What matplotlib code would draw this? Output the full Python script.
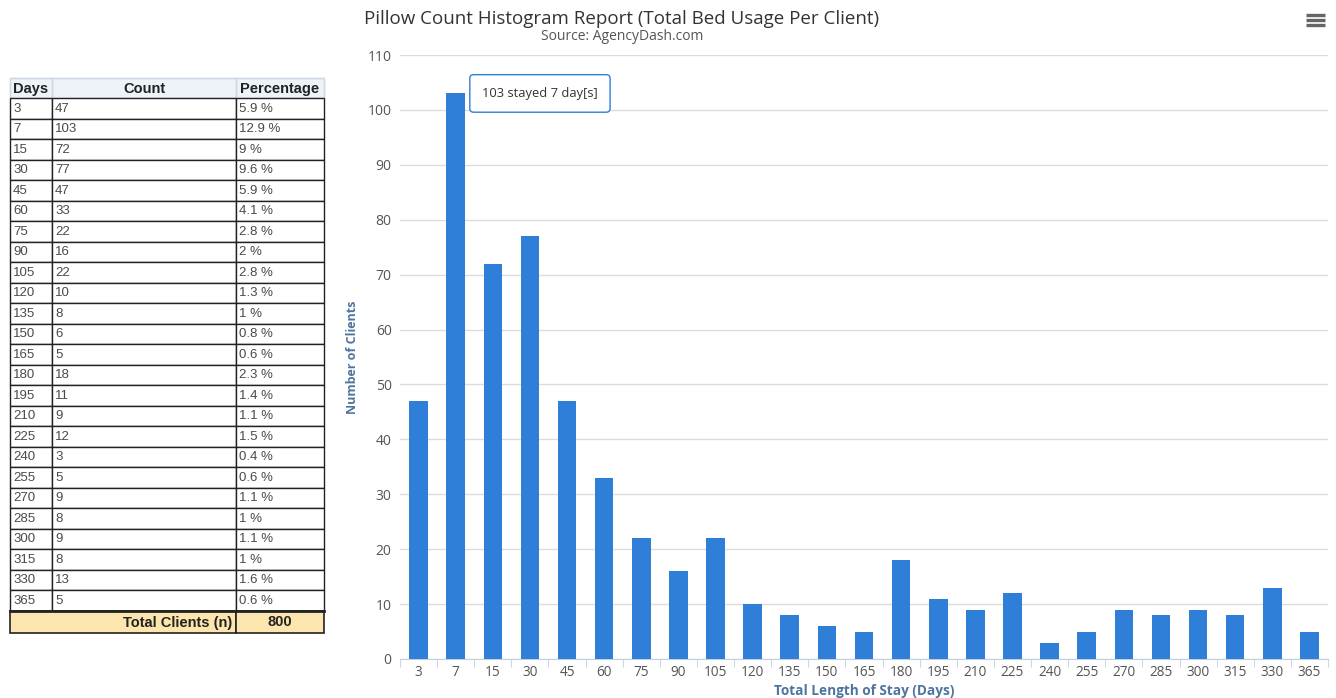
import matplotlib.pyplot as plt
from matplotlib.patches import Rectangle

# length-of-stay buckets and client counts
days = ["3", "7", "15", "30", "45", "60", "75", "90", "105", "120", "135", "150", "165",
        "180", "195", "210", "225", "240", "255", "270", "285", "300", "315", "330", "365"]
counts = [47, 103, 72, 77, 47, 33, 22, 16, 22, 10, 8, 6, 5,
          18, 11, 9, 12, 3, 5, 9, 8, 9, 8, 13, 5]
percentages = ["5.9 %", "12.9 %", "9 %", "9.6 %", "5.9 %", "4.1 %", "2.8 %", "2 %", "2.8 %",
               "1.3 %", "1 %", "0.8 %", "0.6 %", "2.3 %", "1.4 %", "1.1 %", "1.5 %", "0.4 %",
               "0.6 %", "1.1 %", "1 %", "1.1 %", "1 %", "1.6 %", "0.6 %"]
total_clients = 800
y_ticks = list(range(0, 111, 10))

W, H = 1336, 698
BAR = "#2f7ed8"
AXIS_BLUE = "#4d759e"

fig = plt.figure(figsize=(W / 100, H / 100), dpi=100)
fig.patch.set_facecolor("white")

# overlay axes in pixel coordinates for the table and decorations
ov = fig.add_axes([0, 0, 1, 1], zorder=0)
ov.set_xlim(0, W)
ov.set_ylim(H, 0)
ov.axis("off")

# ---- table ----
cols = [10, 52, 236, 324]
head_top, head_bot = 78, 98
row_h = 20.5
tfont = dict(family="Liberation Sans", fontsize=9.5, color="#4a4a4a")
hfont = dict(family="Liberation Sans", fontsize=10.5, fontweight="bold", color="#222222")

ov.add_patch(Rectangle((cols[0], head_top), cols[3] - cols[0], head_bot - head_top,
                       facecolor="#eef3fa", edgecolor="#cfd8e3", lw=1))
for x0, x1, name in zip(cols[:-1], cols[1:], ["Days", "Count", "Percentage"]):
    ov.add_patch(Rectangle((x0, head_top), x1 - x0, head_bot - head_top,
                           facecolor="none", edgecolor="#cfd8e3", lw=1))
    ha = "left" if name == "Days" else "center"
    xt = x0 + 3 if name == "Days" else (x0 + x1) / 2
    ov.text(xt, (head_top + head_bot) / 2 + 1, name, ha=ha, va="center", **hfont)

for i, (d, c, p) in enumerate(zip(days, counts, percentages)):
    y0 = head_bot + i * row_h
    for x0, x1 in zip(cols[:-1], cols[1:]):
        ov.add_patch(Rectangle((x0, y0), x1 - x0, row_h, facecolor="white",
                               edgecolor="#222222", lw=1))
    yc = y0 + row_h / 2 + 0.5
    ov.text(cols[0] + 3, yc, d, ha="left", va="center", **tfont)
    ov.text(cols[1] + 3, yc, str(c), ha="left", va="center", **tfont)
    ov.text(cols[2] + 3, yc, p, ha="left", va="center", **tfont)

tot_top = head_bot + len(days) * row_h
tot_bot = tot_top + 22
ov.add_patch(Rectangle((cols[0], tot_top), cols[2] - cols[0], tot_bot - tot_top,
                       facecolor="#fde6ad", edgecolor="#222222", lw=1.2))
ov.add_patch(Rectangle((cols[2], tot_top), cols[3] - cols[2], tot_bot - tot_top,
                       facecolor="#fde6ad", edgecolor="#222222", lw=1.2))
ov.plot([cols[0], cols[3]], [tot_top, tot_top], color="#222222", lw=2)
ov.text(cols[2] - 4, (tot_top + tot_bot) / 2 + 1, "Total Clients (n)", ha="right",
        va="center", **hfont)
ov.text((cols[2] + cols[3]) / 2, (tot_top + tot_bot) / 2 + 1, str(total_clients),
        ha="center", va="center", **hfont)

# ---- titles and menu icon ----
ov.text(622, 19, "Pillow Count Histogram Report (Total Bed Usage Per Client)", ha="center",
        va="center", family="Open Sans", fontsize=13.5, color="#333333")
ov.text(622, 36, "Source: AgencyDash.com", ha="center", va="center",
        family="Open Sans", fontsize=10, color="#555555")
for yy in (14.5, 19.5, 24.5):
    ov.plot([1306, 1325], [yy, yy], color="#666666", lw=2.4, solid_capstyle="butt")

# ---- bar chart ----
left, right, top, bottom = 400, 1328, 55, 659
ax = fig.add_axes([left / W, 1 - bottom / H, (right - left) / W, (bottom - top) / H], zorder=1)
ax.patch.set_alpha(0)
x = list(range(len(days)))
ax.bar(x, counts, width=0.5, color=BAR, zorder=3)
ax.set_xlim(-0.5, len(days) - 0.5)
ax.set_ylim(0, 110)
ax.set_yticks(y_ticks)
ax.set_xticks(x)
ax.set_xticklabels(days)
ax.set_xticks([i - 0.5 for i in range(len(days) + 1)], minor=True)
ax.grid(axis="y", color="#dcdcdc", lw=1, zorder=0)
for s in ("top", "right", "left"):
    ax.spines[s].set_visible(False)
ax.spines["bottom"].set_color("#c0d0e0")
ax.tick_params(axis="x", which="major", length=0, pad=4, labelsize=9.8, labelcolor="#555555")
ax.tick_params(axis="x", which="minor", length=6, color="#c0d0e0", direction="out")
ax.tick_params(axis="y", length=0, pad=6, labelsize=10, labelcolor="#555555")
for lab in ax.get_xticklabels() + ax.get_yticklabels():
    lab.set_family("Open Sans")
ax.set_ylabel("Number of Clients", family="Open Sans", fontsize=9, fontweight="bold",
              color=AXIS_BLUE, labelpad=6)
ax.set_xlabel("Total Length of Stay (Days)", family="Open Sans", fontsize=9.8,
              fontweight="bold", color=AXIS_BLUE, labelpad=3)

# tooltip on the tallest bar
peak = counts.index(max(counts))
ax.annotate(f"{counts[peak]} stayed {days[peak]} day[s]", xy=(peak, counts[peak]),
            xytext=(19, 0), textcoords="offset points", ha="left", va="center",
            family="Open Sans", fontsize=9.3, color="#333333", zorder=5,
            bbox=dict(boxstyle="round,pad=0.95,rounding_size=0.3", fc="white",
                      ec=BAR, lw=1))

fig.savefig("out.png", dpi=100, facecolor="white")
